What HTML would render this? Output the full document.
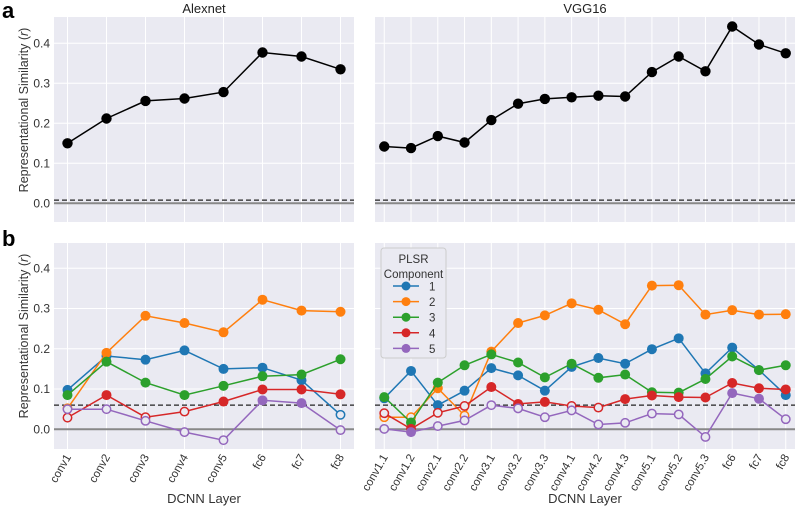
<!DOCTYPE html>
<html><head><meta charset="utf-8"><style>
body{margin:0;background:#fff;}
svg{display:block;font-family:"Liberation Sans",sans-serif;}
</style></head><body>
<svg id="fig" width="797" height="514" viewBox="0 0 797 514"></svg>
<script>
const alexLayers=["conv1","conv2","conv3","conv4","conv5","fc6","fc7","fc8"];
const vggLayers=["conv1.1","conv1.2","conv2.1","conv2.2","conv3.1","conv3.2","conv3.3","conv4.1","conv4.2","conv4.3","conv5.1","conv5.2","conv5.3","fc6","fc7","fc8"];
const yTicks=[0.0,0.1,0.2,0.3,0.4];
const yTickLabels=["0.0","0.1","0.2","0.3","0.4"];
const alexTop=[0.150,0.212,0.256,0.262,0.278,0.377,0.367,0.335];
const vggTop=[0.142,0.138,0.168,0.152,0.208,0.249,0.261,0.265,0.269,0.267,0.328,0.367,0.330,0.442,0.397,0.375];
const topNoise=0.008;
const bottomNoise=0.060;
const compNames=["1","2","3","4","5"];
const compColors=["#1f77b4","#ff7f0e","#2ca02c","#d62728","#9467bd"];
const alexC1=[0.098,0.182,0.173,0.196,0.150,0.153,0.122,0.036];
const alexC2=[0.052,0.190,0.282,0.264,0.241,0.322,0.295,0.292];
const alexC3=[0.085,0.168,0.116,0.085,0.108,0.132,0.136,0.174];
const alexC4=[0.029,0.085,0.030,0.044,0.069,0.099,0.099,0.087];
const alexC5=[0.050,0.050,0.021,-0.007,-0.027,0.072,0.065,-0.002];
const alexSig1=[1,1,1,1,1,1,1,0];
const alexSig2=[0,1,1,1,1,1,1,1];
const alexSig3=[1,1,1,1,1,1,1,1];
const alexSig4=[0,1,0,0,1,1,1,1];
const alexSig5=[0,0,0,0,0,1,1,0];
const vggC1=[0.077,0.145,0.060,0.096,0.152,0.134,0.096,0.155,0.177,0.163,0.199,0.226,0.139,0.203,0.147,0.085];
const vggC2=[0.030,0.030,0.102,0.034,0.193,0.264,0.283,0.313,0.297,0.261,0.357,0.358,0.285,0.296,0.285,0.286];
const vggC3=[0.080,0.017,0.116,0.159,0.186,0.166,0.129,0.163,0.128,0.136,0.092,0.091,0.125,0.181,0.147,0.159];
const vggC4=[0.040,0.001,0.041,0.058,0.105,0.063,0.068,0.058,0.054,0.075,0.084,0.080,0.079,0.115,0.102,0.099];
const vggC5=[0.001,-0.007,0.008,0.022,0.060,0.052,0.030,0.047,0.012,0.016,0.039,0.037,-0.019,0.090,0.076,0.025];
const vggSig1=[1,1,1,1,1,1,1,1,1,1,1,1,1,1,1,1];
const vggSig2=[0,0,1,0,1,1,1,1,1,1,1,1,1,1,1,1];
const vggSig3=[1,1,1,1,1,1,1,1,1,1,1,1,1,1,1,1];
const vggSig4=[0,1,0,0,1,1,1,0,0,1,1,1,1,1,1,1];
const vggSig5=[0,1,0,0,0,0,0,0,0,0,0,0,0,1,1,0];

const NS="http://www.w3.org/2000/svg";
const svg=document.getElementById('fig');
function mk(tag,attrs,parent,text){const e=document.createElementNS(NS,tag);for(const k in attrs)e.setAttribute(k,attrs[k]);if(text!==undefined)e.textContent=text;(parent||svg).appendChild(e);return e;}

function panel(name,x0,x1,y0,y1,v0,pxPerUnit,layers,showY,showX){
  const g=mk('g',{});
  
  
  const bg=mk('rect',{x:x0,y:y0,width:x1-x0,height:y1-y0,fill:'#eaeaf2'},g);
  
  
  const n=layers.length;
  const pad=(x1-x0)/(n-1+2*0.346);
  const first=x0+pad*0.346;
  const xs=i=>first+i*pad;
  const ys=v=>v0-v*pxPerUnit;
  yTicks.forEach((t,i)=>{
    if(t!==0){const l=mk('line',{x1:x0,x2:x1,y1:ys(t),y2:ys(t),stroke:'#fff','stroke-width':1},g);
    }
    if(showY){const tx=mk('text',{x:x0-4,y:ys(t)+4,'text-anchor':'end','font-size':12,fill:'#333'},g,yTickLabels[i]);
    }
  });
  layers.forEach((L,i)=>{
    const l=mk('line',{x1:xs(i),x2:xs(i),y1:y0,y2:y1,stroke:'#fff','stroke-width':1},g);
    
    if(showX){const tx=mk('text',{x:0,y:0,'text-anchor':'end','font-size':11.5,fill:'#333',transform:`translate(${xs(i)+4},${y1+8}) rotate(-60)`},g,L);
    }
  });
  const z=mk('line',{x1:x0,x2:x1,y1:ys(0),y2:ys(0),stroke:'#888','stroke-width':2},g);
  
  return {g,xs,ys,x0,x1};
}
function noise(p,v){const l=mk('line',{x1:p.x0,x2:p.x1,y1:p.ys(v),y2:p.ys(v),stroke:'#222','stroke-width':1.2,'stroke-dasharray':'5,3'},p.g);
  }
function series(p,vals,color,sig,name,r){
  const pts=vals.map((v,i)=>p.xs(i).toFixed(1)+','+p.ys(v).toFixed(1)).join(' ');
  const pl=mk('polyline',{points:pts,fill:'none',stroke:color,'stroke-width':1.5},p.g);
  
  vals.forEach((v,i)=>{
    const f=sig?sig[i]:1;
    const c=mk('circle',{cx:p.xs(i),cy:p.ys(v),r:f?r:r-0.8,fill:f?color:'#eaeaf2',stroke:color,'stroke-width':f?0:1.5},p.g);
    
  });
}
const pa=panel('alexnet-overall-panel',54,354,17,222,203.3,400,alexLayers,true,false);
const pv=panel('vgg16-overall-panel',375,795,17,222,203.3,400,vggLayers,false,false);
noise(pa,topNoise);noise(pv,topNoise);
series(pa,alexTop,'#000',null,'alexnet-overall',5.2);
series(pv,vggTop,'#000',null,'vgg16-overall',5.2);
const pb=panel('alexnet-component-panel',54,354,243,449,429.3,402.5,alexLayers,true,true);
const pw=panel('vgg16-component-panel',375,795,243,449,429.3,402.5,vggLayers,false,true);
noise(pb,bottomNoise);noise(pw,bottomNoise);
const aV=[alexC1,alexC2,alexC3,alexC4,alexC5],aS=[alexSig1,alexSig2,alexSig3,alexSig4,alexSig5];
const vV=[vggC1,vggC2,vggC3,vggC4,vggC5],vS=[vggSig1,vggSig2,vggSig3,vggSig4,vggSig5];
aV.forEach((v,k)=>series(pb,v,compColors[k],aS[k],'alexnet-component-'+compNames[k],5));
vV.forEach((v,k)=>series(pw,v,compColors[k],vS[k],'vgg16-component-'+compNames[k],5));
const lg=mk('g',{});

const lb=mk('rect',{x:381,y:248,width:65,height:110,rx:3,fill:'#eaeaf2',stroke:'#ccc','stroke-width':1},lg);

const lt1=mk('text',{x:413.5,y:263,'text-anchor':'middle','font-size':11.5,fill:'#333'},lg,'PLSR');

const lt2=mk('text',{x:413.5,y:278,'text-anchor':'middle','font-size':11.5,fill:'#333'},lg,'Component');

compNames.forEach((nm,k)=>{
  const y=286+k*15.6;
  const e=mk('g',{},lg);
  
  mk('line',{x1:393,x2:419,y1:y,y2:y,stroke:compColors[k],'stroke-width':1.5},e);
  mk('circle',{cx:406,cy:y,r:4.5,fill:compColors[k]},e);
  mk('text',{x:429,y:y+4.5,'font-size':11.5,fill:'#333'},e,nm);
});
function txt(name,attrs,s){const t=mk('text',attrs,svg,s);return t;}
txt('panel-a-label',{x:2,y:18,'font-size':22,'font-weight':'bold',fill:'#000'},'a');
txt('panel-b-label',{x:2,y:246,'font-size':22,'font-weight':'bold',fill:'#000'},'b');
txt('alexnet-title',{x:204,y:13,'text-anchor':'middle','font-size':13,fill:'#222'},'Alexnet');
txt('vgg16-title',{x:585,y:13,'text-anchor':'middle','font-size':13,fill:'#222'},'VGG16');
const yl1=txt('y-axis-title-top',{x:0,y:0,'text-anchor':'middle','font-size':12.5,fill:'#333',transform:'translate(28,110) rotate(-90)'},'');
yl1.innerHTML='Representational Similarity (<tspan font-style="italic">r</tspan>)';
const yl2=txt('y-axis-title-bottom',{x:0,y:0,'text-anchor':'middle','font-size':12.5,fill:'#333',transform:'translate(28,336) rotate(-90)'},'');
yl2.innerHTML='Representational Similarity (<tspan font-style="italic">r</tspan>)';
txt('x-axis-title-alexnet',{x:204,y:503,'text-anchor':'middle','font-size':13,fill:'#333'},'DCNN Layer');
txt('x-axis-title-vgg16',{x:585,y:503,'text-anchor':'middle','font-size':13,fill:'#333'},'DCNN Layer');
</script>
</body></html>
